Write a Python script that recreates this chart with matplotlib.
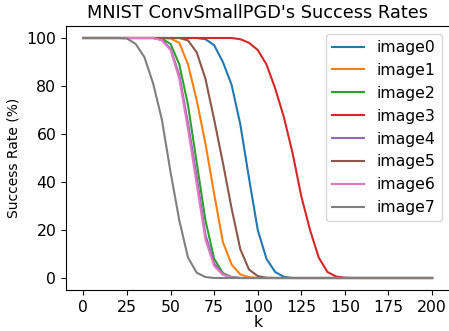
import matplotlib
matplotlib.use("Agg")
import matplotlib.pyplot as plt

k = list(range(0, 205, 5))

# values at k = 0, 5, 10, ..., 200
image0 = [100]*14 + [99.5, 97, 90, 80.5, 64, 41.5, 20, 8, 2.5, 0.5] + [0]*17
image1 = [100]*10 + [99.8, 98, 89, 74, 56, 35, 15, 5.6, 1.5, 0.3] + [0]*21
image2 = [100]*9 + [99.7, 97.5, 89, 72, 48, 24, 8, 2, 0.4] + [0]*23
image3 = [100]*17 + [100, 99.5, 98, 95, 89, 79, 67, 52, 34, 20, 8.5, 2.5, 0.6, 0.1] + [0]*10
image4 = [100]*9 + [99.2, 95.5, 84.5, 64.5, 42, 18, 6, 1.6, 0.3] + [0]*23
image5 = [100]*12 + [99, 94, 83, 66, 48, 29, 12, 3.5, 0.8, 0.1] + [0]*19
image6 = [100]*9 + [99, 95, 83, 62, 39, 16, 5, 1.3, 0.2] + [0]*23
image7 = [100]*5 + [99.8, 97.5, 92, 81, 66, 44, 24, 8.5, 2.2, 0.4] + [0]*26

series = [image0, image1, image2, image3, image4, image5, image6, image7]
labels = ["image0", "image1", "image2", "image3", "image4", "image5", "image6", "image7"]
xticks = [0, 25, 50, 75, 100, 125, 150, 175, 200]
yticks = [0, 20, 40, 60, 80, 100]

fig = plt.figure(figsize=(4.49, 3.31), dpi=100)
ax = fig.add_axes([66/449, 41/331, 383.5/449, 264/331])
for vals, lab in zip(series, labels):
    ax.plot(k, vals, label=lab, linewidth=1.5)
ax.set_xlim(-10, 210)
ax.set_ylim(-5, 105)
ax.set_xticks(xticks)
ax.set_yticks(yticks)
ax.tick_params(labelsize=11.3)
ax.set_xlabel("k", fontsize=11.3, labelpad=0)
ax.set_ylabel("Success Rate (%)", fontsize=10)
ax.set_title("MNIST ConvSmallPGD's Success Rates", fontsize=12.8)
ax.legend(loc="upper right", fontsize=11.3)
fig.savefig("out.png", dpi=100)
